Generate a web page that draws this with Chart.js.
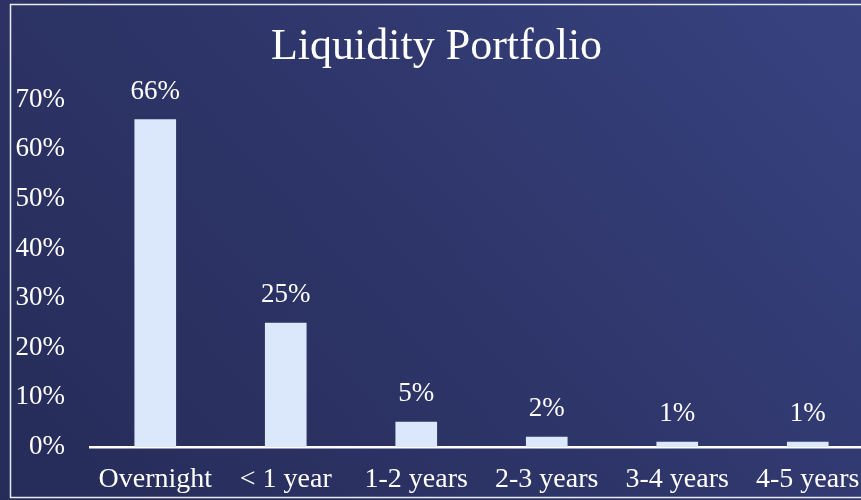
<!DOCTYPE html>
<html>
<head>
<meta charset="utf-8">
<script src="https://cdn.jsdelivr.net/npm/chart.js@4/dist/chart.umd.min.js"></script>
<style>
    html, body { margin: 0; padding: 0; overflow: hidden; background: #2b3163; }
    #wrap { width: 885px; height: 500px; position: relative; }
</style>
</head>
<body>
<div id="wrap"><canvas id="chart"></canvas></div>
<script>
const categories = ['Overnight', '< 1 year', '1-2 years', '2-3 years', '3-4 years', '4-5 years'];
const shares = [66, 25, 5, 2, 1, 1];
const shareLabels = ['66%', '25%', '5%', '2%', '1%', '1%'];

const serif = "'Liberation Serif', 'Times New Roman', serif";

// gradient background plus the thin white frame
const backdrop = {
    id: 'backdrop',
    beforeDraw(chart) {
        const ctx = chart.ctx;
        const w = chart.width, h = chart.height;
        ctx.save();
        const g = ctx.createLinearGradient(0, h, w * 0.8, -h * 0.3);
        g.addColorStop(0, '#262c58');
        g.addColorStop(0.5, '#2e3569');
        g.addColorStop(1, '#37427f');
        ctx.fillStyle = g;
        ctx.fillRect(0, 0, w, h);
        ctx.strokeStyle = 'rgba(255,255,255,0.9)';
        ctx.lineWidth = 1.5;
        ctx.strokeRect(10.5, 4.5, w + 20, h - 7);
        ctx.restore();
    }
};

// value labels above each bar
const valueLabels = {
    id: 'valueLabels',
    afterDatasetsDraw(chart) {
        const ctx = chart.ctx;
        const meta = chart.getDatasetMeta(0);
        ctx.save();
        ctx.fillStyle = '#ffffff';
        ctx.font = `27px ${serif}`;
        ctx.textAlign = 'center';
        ctx.textBaseline = 'middle';
        meta.data.forEach((bar, i) => {
            ctx.fillText(shareLabels[i], bar.x, bar.y - 28);
        });
        ctx.restore();
    }
};

new Chart(document.getElementById('chart'), {
    type: 'bar',
    data: {
        labels: categories,
        datasets: [{
            data: shares,
            backgroundColor: '#dbe8fc',
            borderWidth: 0,
            barThickness: 41
        }]
    },
    options: {
        responsive: true,
        maintainAspectRatio: false,
        animation: false,
        layout: { padding: { left: 0, right: 12, top: 0, bottom: 0 } },
        plugins: {
            legend: { display: false },
            tooltip: { enabled: false },
            title: {
                display: true,
                text: 'Liquidity Portfolio',
                color: '#ffffff',
                font: { family: serif, size: 44, weight: 'normal', lineHeight: 1.2 },
                padding: { top: 21, bottom: 26 }
            }
        },
        scales: {
            x: {
                grid: { display: false, drawTicks: false },
                border: { display: true, color: '#ffffff', width: 2.5 },
                ticks: {
                    color: '#ffffff',
                    font: { family: serif, size: 28 },
                    padding: 16,
                    maxRotation: 0,
                    autoSkip: false
                },
                afterFit(scale) { scale.height = 53; }
            },
            y: {
                min: 0,
                max: 70,
                grid: { display: false, drawTicks: false },
                border: { display: false },
                ticks: {
                    stepSize: 10,
                    color: '#ffffff',
                    font: { family: serif, size: 27 },
                    padding: 25,
                    callback: v => v + '%'
                },
                afterFit(scale) { scale.width = 90; }
            }
        }
    },
    plugins: [backdrop, valueLabels]
});
</script>
</body>
</html>
